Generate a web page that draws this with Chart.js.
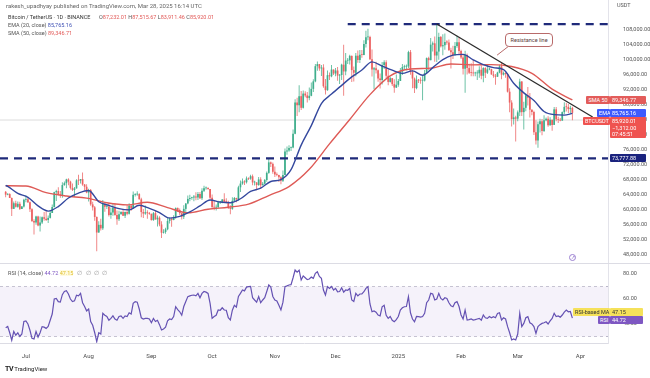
<!DOCTYPE html>
<html>
<head>
<meta charset="utf-8">
<title>Bitcoin / TetherUS 1D</title>
<script src="https://cdn.jsdelivr.net/npm/chart.js@4.4.1/dist/chart.umd.min.js"></script>
<style>
html,body{margin:0;padding:0;background:#fff;overflow:hidden}
#wrap{position:relative;width:650px;height:378px;overflow:hidden;background:#fff;font-family:Roboto,"Liberation Sans",Arial,sans-serif}
#pc,#rc{position:absolute;left:0}
#pc{top:0}
#rc{top:263px}
.t{position:absolute;white-space:nowrap;line-height:1}
.tag{position:absolute;white-space:nowrap;height:8px;line-height:8px;font-size:5.5px;color:#fff;box-sizing:border-box;padding:0 2px;border-radius:1px}
</style>
</head>
<body>
<div id="wrap">
<canvas id="pc" width="650" height="263"></canvas>
<canvas id="rc" width="650" height="115"></canvas>

<div class="t" style="left:6px;top:2.5px;font-size:6px;color:#666">rakesh_upadhyay published on TradingView.com, Mar 28, 2025 16:14 UTC</div>
<div class="t" style="left:8px;top:14.8px;font-size:5.5px;color:#333">Bitcoin / TetherUS · 1D · BINANCE</div>
<div class="t" style="left:99px;top:14.8px;font-size:5.5px;color:#555">O<span style="color:#e25a58">87,232.01</span> H<span style="color:#e25a58">87,515.67</span> L<span style="color:#e25a58">83,911.46</span> C<span style="color:#e25a58">85,920.01</span></div>
<div class="t" style="left:8px;top:22.6px;font-size:5.5px;color:#555">EMA (20, close) <span style="color:#3f51b5">85,765.16</span></div>
<div class="t" style="left:8px;top:30.6px;font-size:5.5px;color:#555">SMA (50, close) <span style="color:#e25a58">89,346.71</span></div>
<div class="t" style="left:617px;top:3px;font-size:5.5px;color:#555">USDT</div>
<div class="t" style="left:8px;top:270.5px;font-size:5.5px;color:#555">RSI (14, close) <span style="color:#7e57c2">44.72</span> <span style="color:#e0c030;background:#fffbe0">47.15</span> <span style="color:#999;letter-spacing:1px">&nbsp;∅ ∅ ∅ ∅</span></div>
<div class="t" style="left:5px;top:366px;font-size:6px;color:#222"><b style="font-size:7px;letter-spacing:-0.5px">TV</b> TradingView</div>
</div>

<script>
const FONT = 'Roboto, "Liberation Sans", Arial, sans-serif';
Chart.defaults.font.family = FONT;

// day index: 0 = 1 Jul 2024; first candle = 21 Jun 2024
const firstDay = -10;

// Daily candles, BTC/USDT (21 Jun 2024 - 28 Mar 2025)
const opens = [
 64850,64100,64250,63200,60300,61800,60850,61650,60300,60950,
 62750,62900,62050,60200,57050,56650,58250,55850,56700,58050,57700,57350,57900,59200,60800,64750,65050,64100,63950,66650,67150,68150,67550,65900,65350,65750,67900,67850,68250,66800,66200,
 64650,65350,61500,60700,58150,54000,56050,55100,61700,60850,60950,58700,59350,60600,58700,57550,58900,59500,58450,59500,59000,61150,60400,64050,64150,64250,62850,59450,59050,59400,59150,
 58950,57300,59150,57500,57950,56150,53950,54150,54850,57050,57650,57350,58150,60550,60000,59150,58200,60300,61750,62950,63200,63350,63600,63350,64300,63150,65150,65800,65850,65600,
 63300,60800,60650,60750,62050,62050,62800,62200,62150,60600,60300,62450,63200,62850,66050,67050,67600,67400,68400,68350,69000,67350,67350,66650,68150,66600,67000,68000,69900,72700,72300,
 70200,69500,69350,68750,67800,69350,75600,75900,76550,76650,80350,88650,87950,90350,87250,91050,90550,89850,90450,92300,94300,98350,98900,97750,98000,93000,91950,95950,95650,97450,
 96400,97200,95850,96000,98750,96950,99850,99900,101100,97300,96600,101150,100000,101400,101350,104300,106050,106150,100200,97450,97800,97250,95100,94700,98650,99400,95800,94150,95150,93550,92650,
 93400,94400,96900,98100,98250,98300,102100,96950,95050,92500,94700,94550,94500,94500,96550,100500,99950,104100,104450,101200,102250,106150,103650,103950,104800,104700,102600,102050,101300,103750,104750,
 102400,100650,97700,101350,97850,96600,96550,96450,96450,96450,97400,95800,97850,96600,97500,97550,96150,95800,95550,96650,98300,96100,96550,96250,91550,88650,84250,84700,
 84350,86050,94250,86100,87250,90600,89950,86750,86150,80750,78550,82850,83700,81050,83950,84350,82600,84050,82700,86850,84200,84050,83850,86100,87500,87450,86900,87232.01
];
const highs = [
 65050,64500,64500,63350,62300,62450,62300,62200,61100,63000,
 63850,63300,62300,60500,57550,58500,58450,58250,58300,59450,59650,58550,59850,61450,64900,65400,66100,65100,67400,67600,68350,68450,67800,67050,66150,68200,69400,68300,70000,66950,66850,
 65650,65600,62200,61100,58300,57000,57700,62700,61750,61450,61850,60650,61550,61800,59850,59800,59650,60250,59600,61400,61800,61400,64950,64500,65000,64500,63250,60250,61200,59950,59450,
 59050,59450,59800,58550,58350,57000,54850,55300,58100,58050,57950,58600,60650,60650,60400,59200,61300,61800,63850,64100,63550,64000,64750,64800,64800,65800,66500,66250,66050,65600,
 64150,62400,61450,62500,62350,62950,64450,63150,62500,61300,63400,63450,63250,66500,67900,68400,67950,68950,68700,69400,69500,67800,67450,68800,68750,67450,68250,70250,73600,72950,72700,
 71600,70000,69400,69000,70550,76400,76950,77250,76950,81500,89550,89950,93250,91750,91850,91650,91450,92650,94000,94850,98950,99600,98950,98650,98850,94950,97200,96650,98700,97500,
 97850,98150,96300,99000,104100,101900,100550,101400,101200,98250,101900,102550,102650,102650,105250,107800,108350,106500,102800,98150,99550,97450,96400,99450,99950,99950,97550,95500,95200,94900,96150,
 94950,97850,98950,98750,98800,102500,102700,97250,95350,95850,94950,95400,95850,97350,100700,100850,105850,104950,106300,109600,107250,106400,106850,107100,105300,105450,103250,103800,104800,106450,106000,
 102750,101450,102500,101750,99000,99150,100150,96900,97300,98350,98550,98100,98100,98800,97950,97700,97050,96250,96900,98750,99500,96950,96650,96500,92500,89300,87050,85150,
 86550,95000,94400,88900,91000,92800,91200,86850,86500,83950,83600,84350,84300,85300,84650,85000,84750,84050,87450,87450,84850,84550,86250,88750,88550,88300,87800,87515.67
];
const lows = [
 63400,63950,63200,58400,60250,60700,60600,60000,60250,60650,
 62100,61850,59450,56800,53500,56050,55700,54250,56300,57150,57050,56550,57750,59200,60650,62400,63900,63250,63300,66450,65800,66600,65450,65100,63450,65750,66700,67050,66450,65300,64500,
 62300,61150,59850,57150,49000,53950,54550,54700,59550,60250,58300,57650,58500,58450,56100,57100,58800,58400,57850,58600,58800,59800,60350,63600,63800,62800,58050,57850,58750,57700,58750,
 57200,57150,57400,55600,55650,52550,53750,53650,54600,56400,55550,57300,57650,59450,58700,57500,57600,59200,61550,62350,62750,62350,62600,62700,62950,62650,64800,65400,65400,62850,
 60150,59950,59850,60450,61600,61800,62100,61800,60300,58900,60050,62450,62050,62450,64800,66750,66700,67100,68000,68100,66600,66550,65250,66450,65750,66550,66800,67550,69700,71450,69700,
 68800,69000,67450,66850,67450,69300,74750,75550,75750,76500,80200,85100,86100,86650,87100,90050,88700,89300,90350,91500,94050,97150,97150,95750,92600,90800,91800,94650,95400,96000,
 95700,94500,93600,94650,90500,95950,98950,98800,94150,94250,95650,99300,99200,100600,101250,103350,105300,100000,95600,92200,96400,94200,92400,93450,97600,95150,93250,94000,93050,91300,92550,
 92850,94400,96000,97550,97250,97900,96100,92500,91200,92200,93850,93700,89250,94300,96450,97350,99950,102300,99550,99450,100100,103350,101250,102750,104100,102500,97750,100250,101250,103300,101550,
 100300,96150,91250,96150,96250,95700,95650,95700,94700,95250,94850,94100,95200,96300,97250,96050,95250,93400,95450,96450,94850,95900,95250,91350,86050,82250,82800,78250,
 83700,85050,85100,81500,86350,87850,84700,85250,80000,77450,76600,80650,79950,80800,83650,82200,82450,81150,82650,83650,83200,83650,83800,85550,86300,85850,85800,83911.46
];
const closes = [
 64100,64250,63200,60300,61800,60850,61650,60300,60950,62750,
 62900,62050,60200,57050,56650,58250,55850,56700,58050,57700,57350,57900,59200,60800,64750,65050,64100,63950,66650,67150,68150,67550,65900,65350,65750,67900,67850,68250,66800,66200,64650,
 65350,61500,60700,58150,54000,56050,55100,61700,60850,60950,58700,59350,60600,58700,57550,58900,59500,58450,59500,59000,61150,60400,64050,64150,64250,62850,59450,59050,59400,59150,58950,
 57300,59150,57500,57950,56150,53950,54150,54850,57050,57650,57350,58150,60550,60000,59150,58200,60300,61750,62950,63200,63350,63600,63350,64300,63150,65150,65800,65850,65600,63300,
 60800,60650,60750,62050,62050,62800,62200,62150,60600,60300,62450,63200,62850,66050,67050,67600,67400,68400,68350,69000,67350,67350,66650,68150,66600,67000,68000,69900,72700,72300,70200,
 69500,69350,68750,67800,69350,75600,75900,76550,76650,80350,88650,87950,90350,87250,91050,90550,89850,90450,92300,94300,98350,98900,97750,98000,93000,91950,95950,95650,97450,96400,
 97200,95850,96000,98750,96950,99850,99900,101100,97300,96600,101150,100000,101400,101350,104300,106050,106150,100200,97450,97800,97250,95100,94700,98650,99400,95800,94150,95150,93550,92650,93400,
 94400,96900,98100,98250,98300,102100,96950,95050,92500,94700,94550,94500,94500,96550,100500,99950,104100,104450,101200,102250,106150,103650,103950,104800,104700,102600,102050,101300,103750,104750,102400,
 100650,97700,101350,97850,96600,96550,96450,96450,96450,97400,95800,97850,96600,97500,97550,96150,95800,95550,96650,98300,96100,96550,96250,91550,88650,84250,84700,84350,
 86050,94250,86100,87250,90600,89950,86750,86150,80750,78550,82850,83700,81050,83950,84350,82600,84050,82700,86850,84200,84050,83850,86100,87500,87450,86900,87230,85920.01
];

// RSI (14, close), one value per candle
const rsiValues = [
 37,38,33,27,34,31,33,30,32,42,
 42.5,40,35,28.5,28,34,29.5,33,37.9,37.5,36.5,38,43,48,60,60.5,57.9,57.5,63.5,66,66.6,64,60,57.9,58.5,63,62.5,64.5,57,54,50.5,
 52,42,39,33,25.9,33,32,48.5,47,46,43,44.5,46.5,44,43,46,46.5,44.5,46.5,46,49,48,56.5,57.9,57.5,52,45,44,44.5,44.5,44,
 41,44.5,42,43,39.5,35.2,36,37.5,42.5,44,43.5,46,53.8,51.5,49.8,47,54,58,61.9,62.5,63,63.2,62.5,64.5,61,64.5,66,65.5,64.5,56.5,
 44.5,46,47,51.2,51,53,51.2,51,45,43.2,51,55,53.5,62,64.5,67.2,66.5,69.5,69.9,70,61,59.2,57.5,61.9,57,59.2,61,66,71.2,69.5,62,
 59.2,58.5,55,51.2,57.5,69.9,70.5,71.2,71.5,77,83.2,81.5,83,75.2,78.5,77,75.5,76,77.5,76.5,80.5,81.8,78,76.5,67.2,63.2,69.9,68.5,70,67.2,
 68.5,65.8,66,69,65.5,67.2,67,68.5,59.2,58,64.5,62.5,64,64,65.8,68.5,69.9,56,49.8,50.5,49.5,47.2,46.5,53.8,55,47,44.5,46,43,41.8,43.5,
 46,51.2,53,53.8,54,61.9,49,44,41.8,46,45.9,45.5,46,48.5,57,59.2,64.5,64,59.2,60,64.5,60.5,59.2,61,60.5,57,54.5,53.8,57,57.9,54,
 47.2,44,51.2,43.2,43.5,44,43.2,43.5,44,44.5,43,47.2,45,44.5,46,45,45.9,45,48.5,49,43.2,45,44,37.9,33,27.2,28,27.2,
 32,48.5,38,40.5,45,45.9,41,40,37.9,32.5,38,39.5,40.5,41,41.8,40,42.5,44.5,48.5,46,46.5,45.5,47.2,49.5,51.2,49.8,50,44.72
];

// EMA (20, close)
const emaDays = [-10,-9,-4,1,6,11,16,21,26,31,36,41,46,51,56,61,66,71,76,81,86,91,96,101,106,111,116,121,126,131,136,141,146,151,156,161,166,171,176,181,186,191,196,201,206,211,216,221,226,231,236,241,246,251,256,261,266,270];
const emaValues = [66550,66300,64430,63390,61110,59710,60920,63190,64510,65190,62200,61240,60370,60040,61260,60450,59330,57840,58310,59480,61080,62680,62120,61920,63000,64940,65840,67600,68120,70750,77300,82510,88390,90910,93240,95510,97320,99490,98390,97300,96430,97100,95940,97970,100120,101290,101510,100030,98760,97960,97440,93800,91240,89200,86270,85420,85310,85765.16];

// SMA (50, close)
const smaDays = [-10,0,10,20,30,40,50,60,70,80,90,100,110,120,130,140,150,160,170,180,190,200,210,220,230,240,250,260,270];
const smaValues = [66480,66390,64630,63720,63160,61940,61370,62050,60630,59230,60210,60750,61550,63860,66250,70840,77620,84130,90770,95770,97600,97820,98950,98710,98770,98270,96450,92230,89346.77];

// drawn levels
const resistanceDays = [203, 280];
const resistancePrices = [109600, 84800];
const supportLevel = 73777.88;
const athLevel = 109588;
const athFromDay = 159;
const greyLevel = 84000;

// last values shown on the axes
const lastPrice = 85920.01, lastEma = 85765.16, lastSma = 89346.77;
const lastRsi = 44.72, lastRsiMa = 47.15;

// ticks
const priceTicks = [48000,52000,56000,60000,64000,68000,72000,76000,80000,84000,88000,92000,96000,100000,104000,108000];
const rsiTicks = [40, 60, 80];
const rsiBands = [70, 30];
const monthDays = [0,31,62,92,123,153,184,215,243,274];
const monthLabels = ['Jul','Aug','Sep','Oct','Nov','Dec','2025','Feb','Mar','Apr'];

const xMin = -12.8, xMax = 287.6;
const fmt = v => v.toLocaleString('en-US', {minimumFractionDigits: 2, maximumFractionDigits: 2});

const UP = '#3fae8c', DOWN = '#ec6161';
const UPW = '#5dbb9c', DOWNW = '#ee7b7b';
const candleX = opens.map((_, i) => firstDay + i);
const isUp = closes.map((c, i) => c >= opens[i]);
const pts = (xs, ys) => xs.map((x, i) => ({x, y: ys[i]}));

const yAxisFit = s => { s.width = 42; s.paddingTop = 0; s.paddingBottom = 0; };

const priceChart = new Chart(document.getElementById('pc'), {
  type: 'bar',
  data: {
    datasets: [
      { type: 'line', data: pts(resistanceDays, resistancePrices), borderColor: '#2b2b2b', borderWidth: 1.3, pointRadius: 0, order: 0 },
      { type: 'line', data: pts(emaDays, emaValues), borderColor: '#34489e', borderWidth: 1.4, pointRadius: 0, cubicInterpolationMode: 'monotone', order: 1 },
      { type: 'line', data: pts(smaDays, smaValues), borderColor: '#de5a56', borderWidth: 1.4, pointRadius: 0, cubicInterpolationMode: 'monotone', order: 1 },
      { type: 'line', data: [{x: xMin, y: supportLevel}, {x: xMax, y: supportLevel}], borderColor: '#1f2a7a', borderWidth: 2.2, borderDash: [8, 6], pointRadius: 0, order: 2 },
      { type: 'line', data: [{x: athFromDay, y: athLevel}, {x: xMax, y: athLevel}], borderColor: '#1f2a7a', borderWidth: 2.2, borderDash: [8, 6], pointRadius: 0, order: 2 },
      { type: 'line', data: [{x: xMin, y: greyLevel}, {x: xMax, y: greyLevel}], borderColor: '#d3d3d3', borderWidth: 0.8, pointRadius: 0, order: 9 },
      { data: candleX.map((x, i) => ({x, y: [opens[i], closes[i]]})), backgroundColor: isUp.map(u => u ? UP : DOWN),
        barThickness: 1.7, minBarLength: 0.8, grouped: false, inflateAmount: 0, order: 3 },
      { data: candleX.map((x, i) => ({x, y: [lows[i], highs[i]]})), backgroundColor: isUp.map(u => u ? UPW : DOWNW),
        barThickness: 0.9, grouped: false, inflateAmount: 0, order: 4 }
    ]
  },
  options: {
    responsive: false, animation: false, devicePixelRatio: 1, events: [],
    layout: { padding: 0 },
    plugins: { legend: { display: false }, tooltip: { enabled: false } },
    scales: {
      x: { type: 'linear', min: xMin, max: xMax, offset: false, display: false },
      y: {
        position: 'right', min: 45866.67, max: 116000,
        afterBuildTicks: s => { s.ticks = priceTicks.map(v => ({value: v})); },
        afterFit: yAxisFit,
        ticks: { callback: v => fmt(v), font: { size: 5.5 }, color: '#555', padding: 7, autoSkip: false },
        grid: { display: false },
        border: { display: true, color: '#e3e3ea', width: 1 }
      }
    }
  }
});

const rsiDeco = {
  id: 'rsiDeco',
  beforeDatasetsDraw(c) {
    const {ctx, chartArea: a, scales: {y}} = c;
    const yA = y.getPixelForValue(rsiBands[0]), yB = y.getPixelForValue(rsiBands[1]);
    ctx.save();
    ctx.fillStyle = 'rgba(126,87,194,0.08)';
    ctx.fillRect(a.left, yA, a.right - a.left, yB - yA);
    ctx.strokeStyle = '#b9b6c8';
    ctx.lineWidth = 0.8;
    ctx.setLineDash([3, 3]);
    [yA, yB].forEach(py => { ctx.beginPath(); ctx.moveTo(a.left, py); ctx.lineTo(a.right, py); ctx.stroke(); });
    ctx.restore();
  },
  afterDraw(c) {
    const {ctx} = c;
    ctx.save();
    ctx.strokeStyle = '#dcdce4';
    ctx.lineWidth = 1;
    ctx.beginPath(); ctx.moveTo(0, 0.5); ctx.lineTo(650, 0.5); ctx.stroke();
    ctx.restore();
  }
};

const rsiChart = new Chart(document.getElementById('rc'), {
  type: 'line',
  data: { datasets: [
    { data: candleX.map((x, i) => ({x, y: rsiValues[i]})), borderColor: '#6552b3', borderWidth: 1.2, pointRadius: 0, tension: 0 }
  ]},
  options: {
    responsive: false, animation: false, devicePixelRatio: 1, events: [],
    layout: { padding: 0 },
    plugins: { legend: { display: false }, tooltip: { enabled: false } },
    scales: {
      x: {
        type: 'linear', min: xMin, max: xMax, offset: false,
        afterBuildTicks: s => { s.ticks = monthDays.map(v => ({value: v})); },
        afterFit: s => { s.height = 35; s.paddingLeft = 0; s.paddingRight = 0; },
        ticks: { callback: v => monthLabels[monthDays.indexOf(v)], autoSkip: false, maxRotation: 0, font: { size: 6 }, color: '#4a4a4a', padding: 10 },
        grid: { display: false, drawTicks: false },
        border: { display: true, color: '#dcdce4' }
      },
      y: {
        position: 'right', min: 24.8, max: 88.8,
        afterBuildTicks: s => { s.ticks = rsiTicks.map(v => ({value: v})); },
        afterFit: yAxisFit,
        ticks: { callback: v => fmt(v), font: { size: 5.5 }, color: '#555', padding: 7, autoSkip: false },
        grid: { display: false },
        border: { display: true, color: '#e3e3ea' }
      }
    }
  },
  plugins: [rsiDeco]
});

// ---- axis value tags and annotation (HTML text positioned via the scales) ----
const wrap = document.getElementById('wrap');
function tag(left, top, width, bg, fg, text, align, h) {
  const d = document.createElement('div');
  d.className = 'tag';
  d.style.left = left + 'px'; d.style.top = top + 'px'; d.style.width = width + 'px';
  d.style.background = bg; d.style.color = fg; d.style.textAlign = align || 'left';
  if (h) { d.style.height = h + 'px'; d.style.lineHeight = '6.8px'; d.style.paddingTop = '0.5px'; }
  d.innerHTML = text;
  wrap.appendChild(d);
  return d;
}
const yP = v => priceChart.scales.y.getPixelForValue(v);
const xP = v => priceChart.scales.x.getPixelForValue(v);
const yR = v => 263 + rsiChart.scales.y.getPixelForValue(v);

const ySma = yP(lastSma);
tag(586, ySma - 4, 24, '#e35c5a', '#fff', 'SMA 50', 'center');
tag(610, ySma - 4, 36, '#e35c5a', '#fff', fmt(lastSma));
const yEma = yP(lastEma);
tag(597, yEma - 4, 13, '#3d5afe', '#fff', 'EMA', 'center');
tag(610, yEma - 4, 36, '#3d5afe', '#fff', fmt(lastEma));
const pTop = yEma + 4;
tag(583, pTop, 27, '#ef5350', '#fff', 'BTCUSDT', 'center');
tag(610, pTop, 36, '#ef5350', '#fff', fmt(lastPrice) + '<br>−1,312.00<br>07:45:51', 'left', 21);
const ySup = yP(supportLevel);
tag(610, ySup - 4, 36, '#1a237e', '#fff', fmt(supportLevel));

const yRsi = yR(lastRsi);
tag(598, yRsi - 2.5, 12, '#7e57c2', '#fff', 'RSI', 'center');
tag(610, yRsi - 2.5, 33, '#7e57c2', '#fff', fmt(lastRsi));
tag(573, yRsi - 10.5, 37, '#f5e15a', '#333', 'RSI-based MA', 'center');
tag(610, yRsi - 10.5, 33, '#f5e15a', '#333', fmt(lastRsiMa));

// small purple icon at bottom of price pane
const ic = document.createElement('div');
ic.style.cssText = 'position:absolute;left:569px;top:254px;width:7px;height:7px;border:1px solid #9a7fd0;border-radius:50%;box-sizing:border-box;font-size:5px;line-height:5px;text-align:center;color:#9a7fd0';
ic.textContent = '↗';
wrap.appendChild(ic);

// "Resistance line" callout anchored on the resistance line
const calloutDay = 232.8, calloutPrice = 101300;
const ax = xP(calloutDay), ay = yP(calloutPrice);
const cb = document.createElement('div');
cb.style.cssText = 'position:absolute;box-sizing:border-box;width:48px;height:14px;border:1px solid #b86a6a;border-radius:4px;background:#fff;font-size:5.5px;line-height:12px;text-align:center;color:#5a3b3b;white-space:nowrap';
cb.style.left = (ax + 8) + 'px'; cb.style.top = (ay - 22) + 'px';
cb.textContent = 'Resistance line';
const svgNS = 'http://www.w3.org/2000/svg';
const sv = document.createElementNS(svgNS, 'svg');
sv.setAttribute('width', '650'); sv.setAttribute('height', '378');
sv.style.cssText = 'position:absolute;left:0;top:0;pointer-events:none';
const ln = document.createElementNS(svgNS, 'line');
ln.setAttribute('x1', ax); ln.setAttribute('y1', ay);
ln.setAttribute('x2', ax + 11); ln.setAttribute('y2', ay - 8.5);
ln.setAttribute('stroke', '#b86a6a'); ln.setAttribute('stroke-width', '1');
sv.appendChild(ln);
wrap.appendChild(sv);
wrap.appendChild(cb);
</script>
</body>
</html>
